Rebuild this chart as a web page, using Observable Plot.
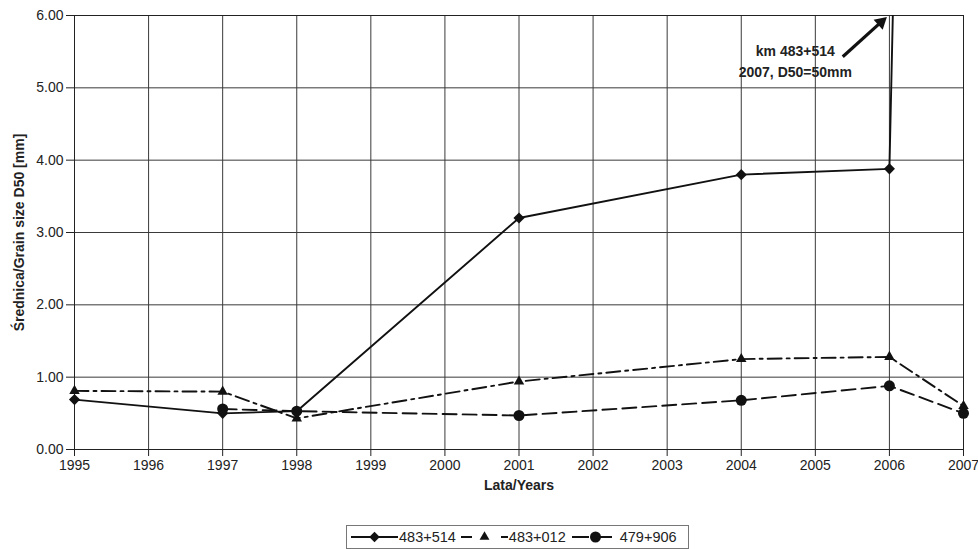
<!DOCTYPE html>
<html>
<head>
<meta charset="utf-8">
<script src="https://cdn.jsdelivr.net/npm/d3@7"></script>
<script src="https://cdn.jsdelivr.net/npm/@observablehq/plot@0.6"></script>
<style>
  html, body { margin: 0; padding: 0; background: #fff; }
  body { width: 978px; height: 549px; overflow: hidden; font-family: "Liberation Sans", Arial, sans-serif; }
  #chart svg { font-family: "Liberation Sans", Arial, sans-serif; font-size: 14px; color: #222; }
  #chart svg g[aria-label$="tick label"] { font-size: 14px !important; }
  #chart svg g[aria-label$="axis label"] { font-size: 14px !important; font-weight: bold; }
  #legend { position: absolute; left: 346px; top: 525px; width: 343px; height: 24px; border: 1px solid #777; background: #fff;
            display: flex; align-items: center; font-size: 14.5px; color: #222; box-sizing: border-box; padding-left: 4px; }
  #legend .item { display: flex; align-items: center; }
  #legend svg { display: block; }
</style>
</head>
<body>
<div id="chart"></div>
<div id="legend"></div>
<script>
// ---- data ----
const years = [1995, 1997, 1998, 2001, 2004, 2006, 2007];
const s483_514 = [0.69, 0.50, 0.53, 3.20, 3.80, 3.88, 50];
const s483_012 = [0.81, 0.80, 0.43, 0.94, 1.25, 1.28, 0.60];
const s479_906 = [null, 0.56, 0.53, 0.47, 0.68, 0.88, 0.50];
const seriesNames = ["483+514", "483+012", "479+906"];
const seriesSymbols = ["diamond2", "triangle2", "circle"];
const seriesDash = [null, "14,5,3,5", "14,6"];
const legendDash = [null, "11,29,7", "17,11,12,7"];
const yTicks = [0, 1, 2, 3, 4, 5, 6];
const xTicks = d3.range(1995, 2008);
const annotationLines = ["km 483+514", "2007, D50=50mm"];
const annotationX = 2004.73;
const annotationY = [5.50, 5.21];
const arrowFrom = {x: 2005.37, y: 5.43};
const arrowHead = {x: 2005.887, y: 5.908};

// ---- build table ----
const allSeries = [s483_514, s483_012, s479_906];
const rows = [];
allSeries.forEach((vals, i) => {
  years.forEach((yr, j) => {
    if (vals[j] != null) rows.push({series: seriesNames[i], year: yr, value: vals[j], idx: i});
  });
});

const marks = [
  Plot.gridX(xTicks, {stroke: "#3a3a3a", strokeOpacity: 1, strokeWidth: 1}),
  Plot.gridY(yTicks, {stroke: "#3a3a3a", strokeOpacity: 1, strokeWidth: 1}),
  Plot.frame({stroke: "#222", strokeWidth: 1}),
  Plot.axisX(xTicks, {tickFormat: d => String(d), tickSize: 7, tickPadding: 4, label: "Lata/Years", labelAnchor: "center", labelOffset: 40, labelArrow: "none", fontSize: 14}),
  Plot.axisY(yTicks, {tickFormat: d => d.toFixed(2), tickSize: 8, tickPadding: 3, label: "Średnica/Grain size D50 [mm]", labelAnchor: "center", labelOffset: 60, labelArrow: "none", fontSize: 14}),
];
allSeries.forEach((vals, i) => {
  const data = rows.filter(r => r.idx === i);
  marks.push(Plot.line(data, {x: "year", y: "value", stroke: "#111", strokeWidth: 1.9, strokeDasharray: seriesDash[i], clip: true}));
});
allSeries.forEach((vals, i) => {
  const data = rows.filter(r => r.idx === i && r.value <= 6);
  marks.push(Plot.dot(data, {x: "year", y: "value", symbol: () => seriesSymbols[i], fill: "#111", stroke: "none", r: i === 2 ? 5.5 : 5}));
});
marks.push(Plot.text(annotationLines, {x: () => annotationX, y: (d, k) => annotationY[k], text: d => d, fontWeight: "bold", fontSize: 14, fill: "#222", textAnchor: "middle"}));
marks.push(Plot.link([0], {x1: () => arrowFrom.x, y1: () => arrowFrom.y, x2: () => arrowHead.x, y2: () => arrowHead.y, stroke: "#111", strokeWidth: 3.2}));
marks.push(Plot.dot([0], {x: () => arrowHead.x, y: () => arrowHead.y, symbol: "triangle2", r: 6.5, fill: "#111", stroke: "none", rotate: 48}));

const chart = Plot.plot({
  width: 978,
  height: 512,
  marginLeft: 74,
  marginRight: 15,
  marginTop: 15,
  marginBottom: 63,
  x: {domain: [1995, 2007]},
  y: {domain: [0, 6]},
  style: {background: "#fff"},
  marks
});
document.getElementById("chart").appendChild(chart);

// ---- legend ----
const legend = d3.select("#legend");
const symPath = {
  diamond2: d3.symbol(d3.symbolDiamond2, 70)(),
  triangle2: d3.symbol(d3.symbolTriangle2, 70)(),
  circle: d3.symbol(d3.symbolCircle, 95)()
};
seriesNames.forEach((name, i) => {
  const item = legend.append("div").attr("class", "item").style("margin-left", i === 0 ? "0px" : (i === 1 ? "5px" : "6px"));
  const svg = item.append("svg").attr("width", 47).attr("height", 14);
  svg.append("line").attr("x1", 0).attr("x2", 47).attr("y1", 7).attr("y2", 7)
    .attr("stroke", "#111").attr("stroke-width", 1.8).attr("stroke-dasharray", legendDash[i]);
  svg.append("path").attr("d", symPath[seriesSymbols[i]]).attr("transform", "translate(23.5,7)").attr("fill", "#111");
  item.append("span").text(name).style("margin-left", "1px");
});
</script>
</body>
</html>
